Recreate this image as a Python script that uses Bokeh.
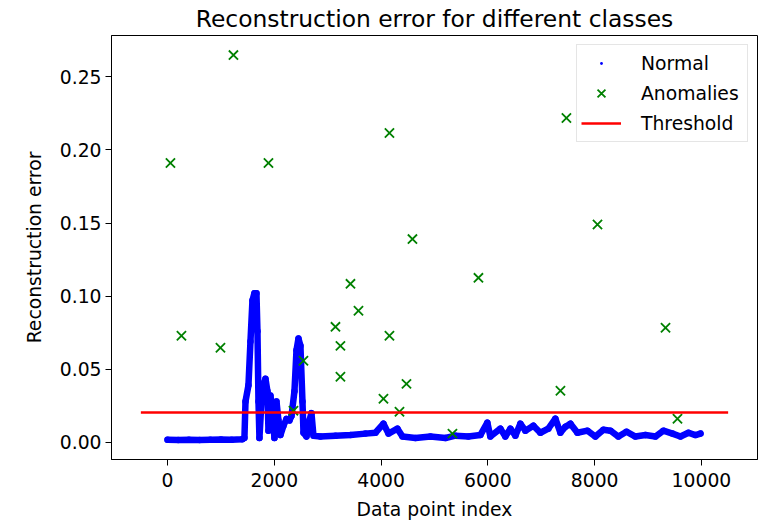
from bokeh.plotting import figure
from bokeh.models import FixedTicker, NumeralTickFormatter, Range1d, Legend, LegendItem
from bokeh.embed import file_html
from bokeh.resources import INLINE

# ---- data ----
normal_x = [0, 200, 400, 600, 800, 1000, 1200, 1400, 1440, 1460, 1515, 1553, 1590, 1627,
            1665, 1684, 1703, 1721, 1759, 1796, 1834, 1871, 1890, 1927, 1965, 2002, 2040,
            2077, 2115, 2171, 2227, 2283, 2321, 2377, 2415, 2452, 2489, 2527, 2546, 2602,
            2658, 2695, 2733, 2864, 3145, 3426, 3706, 3894, 4044, 4138, 4306, 4400, 4643,
            4924, 5205, 5392, 5635, 5859, 5990, 6046, 6234, 6327, 6421, 6515, 6608, 6702,
            6852, 6983, 7133, 7264, 7358, 7452, 7546, 7677, 7864, 8014, 8164, 8295, 8445,
            8595, 8763, 8951, 9138, 9288, 9457, 9607, 9757, 9888, 9982]
normal_y = [0.0018, 0.0017, 0.0018, 0.0017, 0.0018, 0.0019, 0.0018, 0.0022, 0.003, 0.028,
            0.039, 0.069, 0.097, 0.102, 0.102, 0.076, 0.028, 0.003, 0.028, 0.039, 0.0435,
            0.035, 0.008, 0.032, 0.022, 0.003, 0.028, 0.015, 0.005, 0.0114, 0.016, 0.015,
            0.018, 0.035, 0.063, 0.071, 0.066, 0.028, 0.0066, 0.004, 0.015, 0.02, 0.0045,
            0.004, 0.0046, 0.005, 0.006, 0.0066, 0.0128, 0.006, 0.0094, 0.004, 0.003, 0.004,
            0.003, 0.0046, 0.004, 0.005, 0.0135, 0.004, 0.0094, 0.004, 0.0094, 0.0046,
            0.0128, 0.008, 0.0114, 0.0066, 0.0094, 0.0162, 0.0066, 0.0107, 0.0128, 0.0066,
            0.008, 0.004, 0.0087, 0.008, 0.004, 0.0073, 0.004, 0.005, 0.004, 0.008, 0.006,
            0.004, 0.0066, 0.005, 0.006]

anomaly_x = [54, 260, 991, 1234, 1890, 2358, 2545, 3145, 3238, 3238, 3426, 3576, 4044,
             4156, 4156, 4344, 4475, 4587, 5336, 5823, 7359, 7471, 8053, 9327, 9551]
anomaly_y = [0.191, 0.0729, 0.0647, 0.2648, 0.191, 0.0217, 0.0558, 0.079, 0.066, 0.0449,
             0.1084, 0.090, 0.0298, 0.2115, 0.0729, 0.021, 0.040, 0.139, 0.006, 0.1125,
             0.0353, 0.2218, 0.149, 0.0784, 0.0162]

threshold_value = 0.0205
threshold_span = [-500, 10500]

x_ticks = [0, 2000, 4000, 6000, 8000, 10000]
y_ticks = [0.0, 0.05, 0.10, 0.15, 0.20, 0.25]

FONT = "DejaVu Sans"
FS = "18.75px"

p = figure(width=769, height=524, output_backend="svg", toolbar_location=None,
           x_range=Range1d(-1050, 11050), y_range=Range1d(-0.0117, 0.2782),
           min_border_left=111, min_border_right=12, min_border_top=34, min_border_bottom=65,
           title="Reconstruction error for different classes")

p.title.text_font = FONT
p.title.text_font_size = "23.4px"
p.title.text_font_style = "normal"
p.title.align = "center"
p.title.standoff = 5
p.title.text_color = "black"

p.xgrid.visible = False
p.ygrid.visible = False
p.outline_line_color = "black"
p.outline_line_width = 1
p.background_fill_color = "white"
p.border_fill_color = "white"

for ax in (p.xaxis[0], p.yaxis[0]):
    ax.major_label_text_font = FONT
    ax.major_label_text_font_size = FS
    ax.major_label_text_color = "black"
    ax.axis_label_text_font = FONT
    ax.axis_label_text_font_size = FS
    ax.axis_label_text_font_style = "normal"
    ax.axis_label_text_color = "black"
    ax.major_tick_in = 0
    ax.major_tick_out = 6
    ax.minor_tick_in = 0
    ax.minor_tick_out = 0
    ax.axis_line_color = "black"
    ax.major_tick_line_color = "black"

p.xaxis.major_label_standoff = 7
p.xaxis.axis_label_standoff = 9
p.yaxis.major_label_standoff = 4
p.yaxis.axis_label_standoff = 12

p.xaxis.ticker = FixedTicker(ticks=x_ticks)
p.yaxis.ticker = FixedTicker(ticks=y_ticks)
p.yaxis.formatter = NumeralTickFormatter(format="0.00")
p.xaxis.axis_label = "Data point index"
p.yaxis.axis_label = "Reconstruction error"

# normal series: dense dots merge into a thick band
p.line(normal_x, normal_y, line_color="blue", line_width=6.5, line_join="round", line_cap="round")
r_norm = p.scatter(normal_x, normal_y, marker="dot", size=26, line_color="blue", fill_color="blue")

r_anom = p.scatter(anomaly_x, anomaly_y, marker="x", size=13, line_color="green", line_width=1.8)

r_thr = p.line(threshold_span, [threshold_value, threshold_value], line_color="red", line_width=2.5)

legend = Legend(items=[LegendItem(label="Normal", renderers=[r_norm]),
                       LegendItem(label="Anomalies", renderers=[r_anom]),
                       LegendItem(label="Threshold", renderers=[r_thr])],
                location="top_right")
legend.label_text_font = FONT
legend.label_text_font_size = FS
legend.label_text_color = "black"
legend.glyph_width = 40
legend.glyph_height = 28
legend.label_height = 28
legend.label_width = 102
legend.label_standoff = 20
legend.padding = 4
legend.spacing = 2
legend.margin = 9
legend.border_line_color = "#cccccc"
legend.border_line_width = 1
legend.background_fill_color = "white"
legend.background_fill_alpha = 0.8
p.add_layout(legend, "center")

open("out.html", "w").write(file_html(p, INLINE))
